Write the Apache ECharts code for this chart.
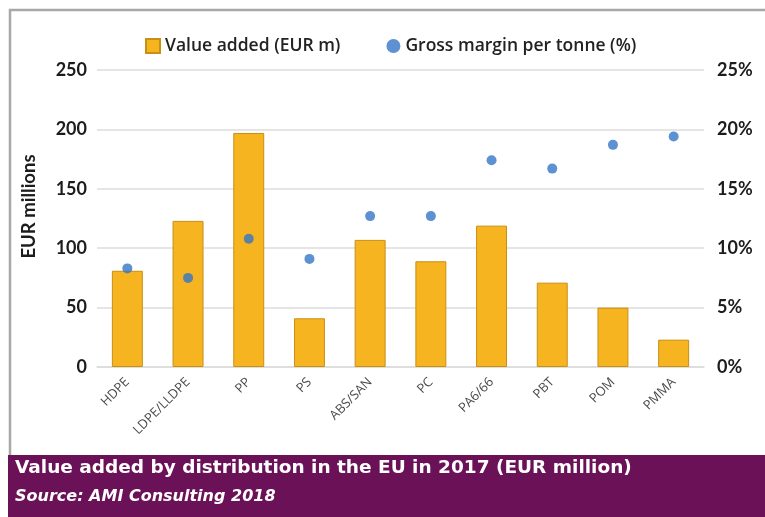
<!DOCTYPE html>
<html>
<head>
<meta charset="utf-8">
<script src="https://cdn.jsdelivr.net/npm/echarts@6/dist/echarts.min.js"></script>
<style>
  html, body { margin: 0; padding: 0; background: #ffffff; }
  #chart { width: 765px; height: 517px; }
</style>
</head>
<body>
<div id="chart"></div>
<script>
// Polymer categories
const categories = ['HDPE', 'LDPE/LLDPE', 'PP', 'PS', 'ABS/SAN', 'PC', 'PA6/66', 'PBT', 'POM', 'PMMA'];
// Value added by distribution, EUR million
const valueAdded = [81, 123, 197, 41, 107, 89, 119, 71, 50, 23];
// Gross margin per tonne, percent
const grossMargin = [8.3, 7.5, 10.8, 9.1, 12.7, 12.7, 17.4, 16.7, 18.7, 19.4];

const titleText = 'Value added by distribution in the EU in 2017 (EUR million)';
const sourceText = 'Source: AMI Consulting 2018';

const chart = echarts.init(document.getElementById('chart'), null, { renderer: 'canvas' });

const axisFont = { fontFamily: 'Lato', fontWeight: 'bold', fontSize: 18, color: '#1c1c1c' };

chart.setOption({
  backgroundColor: '#ffffff',
  animation: false,
  legend: {
    left: 140,
    top: 32,
    itemGap: 46,
    itemWidth: 14,
    itemHeight: 14,
    textStyle: { fontFamily: 'Open Sans', fontWeight: 600, fontSize: 17.5, color: '#222222' },
    data: [
      { name: 'Value added (EUR m)', icon: 'rect' },
      { name: 'Gross margin per tonne (%)', icon: 'circle' }
    ]
  },
  grid: { left: 97, right: 61, top: 70, bottom: 150 },
  xAxis: {
    type: 'category',
    data: categories,
    axisLine: { show: true, lineStyle: { color: '#dcdcdc', width: 1.5 } },
    axisTick: { show: false },
    axisLabel: {
      rotate: 45,
      margin: 13,
      interval: 0,
      fontFamily: 'Open Sans',
      fontSize: 13,
      color: '#4a4a4a'
    }
  },
  yAxis: [
    {
      type: 'value',
      min: 0,
      max: 250,
      interval: 50,
      name: 'EUR millions',
      nameLocation: 'middle',
      nameGap: 58,
      nameTextStyle: { fontFamily: 'Lato', fontWeight: 'bold', fontSize: 18.5, color: '#1c1c1c', padding: [0, 0, 0, 24] },
      axisLine: { show: false },
      axisTick: { show: false },
      splitLine: { lineStyle: { color: '#dcdcdc', width: 1.5 } },
      axisLabel: Object.assign({ margin: 10 }, axisFont)
    },
    {
      type: 'value',
      min: 0,
      max: 25,
      interval: 5,
      position: 'right',
      axisLine: { show: false },
      axisTick: { show: false },
      splitLine: { show: false },
      axisLabel: Object.assign({ margin: 13, formatter: '{value}%' }, axisFont)
    }
  ],
  series: [
    {
      name: 'Value added (EUR m)',
      type: 'bar',
      data: valueAdded,
      barWidth: '51%',
      yAxisIndex: 0,
      itemStyle: { color: '#f6b520', borderColor: '#c98e14', borderWidth: 1 },
      z: 2
    },
    {
      name: 'Gross margin per tonne (%)',
      type: 'scatter',
      data: grossMargin,
      yAxisIndex: 1,
      symbol: 'circle',
      symbolSize: 10,
      itemStyle: { color: '#3575c5' },
      z: 3
    }
  ],
  graphic: [
    {
      type: 'rect',
      shape: { x: 10, y: 10, width: 800, height: 460 },
      style: { fill: 'none', stroke: '#a8a8a8', lineWidth: 2.5 },
      z: -1,
      silent: true
    },
    {
      type: 'rect',
      shape: { x: 8, y: 455, width: 760, height: 70 },
      style: { fill: '#6b1158' },
      z: 10,
      silent: true
    },
    {
      type: 'text',
      left: 15,
      top: 459,
      z: 11,
      style: {
        text: titleText,
        fill: '#ffffff',
        fontFamily: 'DejaVu Sans',
        fontWeight: 'bold',
        fontSize: 18.5
      }
    },
    {
      type: 'text',
      left: 15,
      top: 489,
      z: 11,
      style: {
        text: sourceText,
        fill: '#ffffff',
        fontFamily: 'DejaVu Sans',
        fontWeight: 'bold',
        fontStyle: 'italic',
        fontSize: 16
      }
    }
  ]
});
</script>
</body>
</html>
